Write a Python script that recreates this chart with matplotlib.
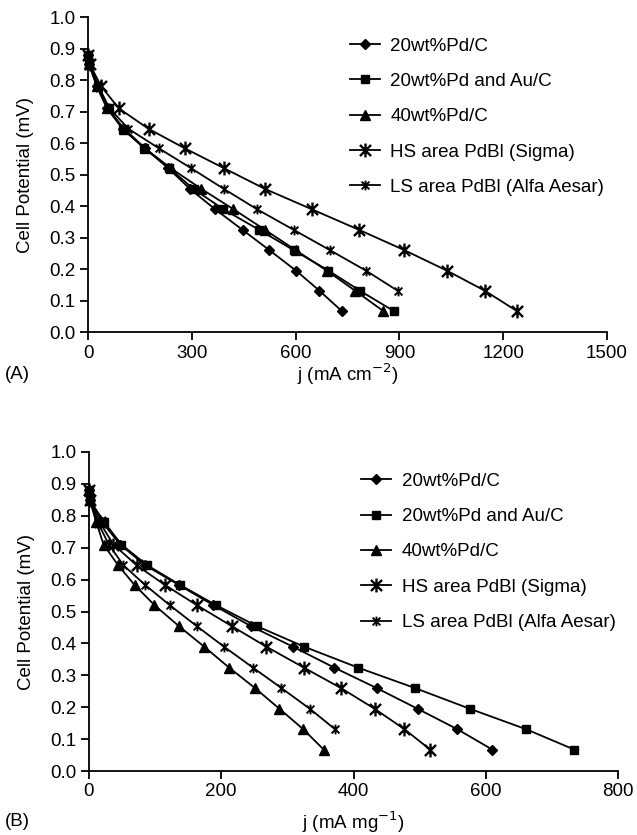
import matplotlib
matplotlib.use("Agg")
import matplotlib.pyplot as plt
from matplotlib.path import Path

plt.rcParams['font.family'] = ['Liberation Sans', 'DejaVu Sans']

labels = ["20wt%Pd/C", "20wt%Pd and Au/C", "40wt%Pd/C",
          "HS area PdBl (Sigma)", "LS area PdBl (Alfa Aesar)"]

# Cell potential levels (shared by the series)
v14 = [0.88, 0.85, 0.78, 0.71, 0.645, 0.583, 0.52, 0.454, 0.39, 0.324, 0.26, 0.195, 0.131, 0.067]
v13 = v14[:13]

# Panel A: j (mA cm-2)
a_pdc20 = [0, 3, 25, 55, 100, 165, 232, 295, 367, 447, 524, 601, 669, 733]
a_pdau = [0, 3, 30, 60, 100, 163, 235, 305, 391, 495, 594, 695, 786, 883]
a_pdc40 = [0, 3, 27, 55, 105, 165, 239, 328, 420, 512, 600, 690, 772, 853]
a_hs = [0, 5, 38, 89, 175, 280, 393, 512, 646, 784, 914, 1037, 1147, 1239]
a_ls = [0, 4, 30, 62, 117, 205, 298, 393, 488, 595, 699, 803, 895]

# Panel B: j (mA mg-1)
b_pdc20 = [0, 1, 20, 47, 85, 136, 188, 245, 308, 371, 435, 497, 557, 610]
b_pdau = [0, 1, 23, 49, 88, 138, 192, 254, 325, 407, 493, 576, 661, 734]
b_pdc40 = [0, 1, 11, 22, 44, 69, 99, 136, 174, 212, 251, 288, 324, 355]
b_hs = [0, 1, 16, 37, 72, 115, 163, 216, 268, 325, 381, 432, 477, 516]
b_ls = [0, 1, 13, 30, 52, 85, 122, 163, 204, 248, 291, 334, 372]

# X with a vertical bar
star = Path([(0, -1), (0, 1), (-0.8, -0.8), (0.8, 0.8), (-0.8, 0.8), (0.8, -0.8)],
            [Path.MOVETO, Path.LINETO, Path.MOVETO, Path.LINETO, Path.MOVETO, Path.LINETO])

styles = [
    dict(marker='D', ms=4.8),
    dict(marker='s', ms=5.8),
    dict(marker='^', ms=7.5),
    dict(marker=star, ms=10, mew=1.7),
    dict(marker=star, ms=7, mew=1.4),
]

FS = 13.5
W, H = 637, 835
fig = plt.figure(figsize=(W / 100, H / 100), dpi=100)

def make_panel(rect, xs, ys, xmax, xstep, xlabel, tag, leg_anchor, tag_y, xlabel_y):
    ax = fig.add_axes(rect)
    for x, y, lab, st in zip(xs, ys, labels, styles):
        ax.plot(x, y, color='black', lw=1.3, mfc='black', mec='black', label=lab,
                clip_on=False, **st)
    ax.set_xlim(0, xmax)
    ax.set_ylim(0, 1.0)
    ax.set_xticks(range(0, xmax + 1, xstep))
    ax.set_yticks([i / 10 for i in range(11)])
    ax.set_yticklabels([f"{i/10:.1f}" for i in range(11)])
    for s in ['top', 'right']:
        ax.spines[s].set_visible(False)
    for s in ['left', 'bottom']:
        ax.spines[s].set_linewidth(1.3)
    ax.tick_params(direction='out', length=6, width=1.3, labelsize=FS, pad=3)
    ax.set_ylabel("Cell Potential (mV)", fontsize=FS, labelpad=11)
    ax.legend(loc='upper left', bbox_to_anchor=leg_anchor, frameon=False,
              fontsize=FS, borderpad=0, borderaxespad=0, handlelength=1.6,
              handletextpad=0.55, labelspacing=0.97, numpoints=1)
    fig.text(5 / W, 1 - tag_y / H, tag, fontsize=FS, va='center', ha='left')
    fig.text((rect[0] + rect[2] / 2), 1 - xlabel_y / H, xlabel, fontsize=FS,
             va='center', ha='center')
    return ax

make_panel([88 / W, 1 - 332 / H, 519 / W, 315 / H],
           [a_pdc20, a_pdau, a_pdc40, a_hs, a_ls],
           [v14, v14, v14, v14, v13],
           1500, 300, r"j (mA cm$^{-2}$)", "(A)", (0.505, 0.935), 374, 374)

make_panel([89 / W, 1 - 771 / H, 529 / W, 319 / H],
           [b_pdc20, b_pdau, b_pdc40, b_hs, b_ls],
           [v14, v14, v14, v14, v13],
           800, 200, r"j (mA mg$^{-1}$)", "(B)", (0.515, 0.935), 822, 822)

fig.savefig("out.png", dpi=100)
